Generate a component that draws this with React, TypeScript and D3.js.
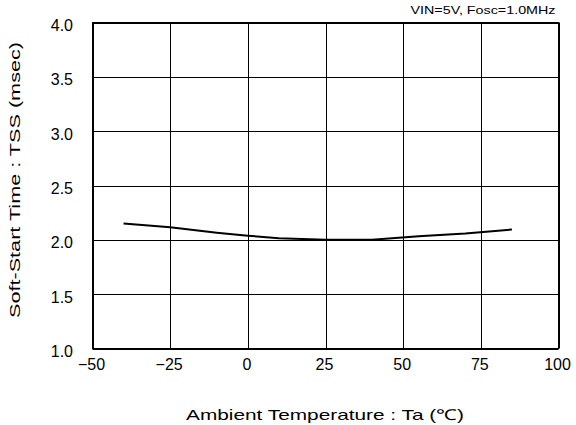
import React from "react";
import * as d3 from "d3";

const temps = [-40, -25, -10, 0, 10, 25, 40, 55, 70, 85];
const tss = [2.15, 2.115, 2.065, 2.038, 2.015, 2.0, 2.0, 2.032, 2.058, 2.095];
const xTicks = [-50, -25, 0, 25, 50, 75, 100];
const yTicks = [1.0, 1.5, 2.0, 2.5, 3.0, 3.5, 4.0];

const W = 576;
const H = 425;
const M = { left: 92.5, right: 558.5, top: 22.5, bottom: 348.5 };

export default function App() {
  const x = d3.scaleLinear().domain([-50, 100]).range([M.left, M.right]);
  const y = d3.scaleLinear().domain([1.0, 4.0]).range([M.bottom, M.top]);
  const line = d3
    .line<number>()
    .x((_, i) => x(temps[i]))
    .y((d) => y(d));
  const fmtX = (v: number) => (v < 0 ? "\u2212" + Math.abs(v) : String(v));
  const font = "'Liberation Sans', Arial, sans-serif";
  return (
    <svg
      width={W}
      height={H}
      style={{ position: "absolute", left: 0, top: 0, background: "#fff" }}
      fontFamily={font}
    >
      <rect x={0} y={0} width={W} height={H} fill="#fff" />
      {xTicks.map((t) => (
        <line key={"gx" + t} x1={Math.round(x(t)) + 0.5} x2={Math.round(x(t)) + 0.5} y1={M.top} y2={M.bottom} stroke="#000" strokeWidth={1} />
      ))}
      {yTicks.map((t) => (
        <line key={"gy" + t} x1={M.left} x2={M.right} y1={Math.round(y(t)) + 0.5} y2={Math.round(y(t)) + 0.5} stroke="#000" strokeWidth={1} />
      ))}
      <rect x={M.left} y={M.top} width={M.right - M.left} height={M.bottom - M.top} fill="none" stroke="#000" strokeWidth={1} />
      <path d={line(tss) || ""} fill="none" stroke="#000" strokeWidth={2} strokeLinejoin="round" />
      {yTicks.map((t) => (
        <text key={"ty" + t} x={73} y={y(t) + 8.5} textAnchor="end" fontSize={16} fill="#000">
          {t.toFixed(1)}
        </text>
      ))}
      {xTicks.map((t) => (
        <text key={"tx" + t} x={x(t) - 1} y={369.5} textAnchor="middle" fontSize={16} fill="#000">
          {fmtX(t)}
        </text>
      ))}
      <text x={325} y={420} textAnchor="middle" fontSize={15} fill="#000" textLength={278} lengthAdjust="spacingAndGlyphs">
        Ambient Temperature : Ta (℃)
      </text>
      <text
        transform={`translate(20,180) rotate(-90)`}
        textAnchor="middle"
        fontSize={15}
        fill="#000"
        textLength={276}
        lengthAdjust="spacingAndGlyphs"
      >
        Soft-Start Time : TSS (msec)
      </text>
      <text x={555.5} y={14} textAnchor="end" fontSize={11.5} fill="#000" textLength={145} lengthAdjust="spacingAndGlyphs">
        VIN=5V, Fosc=1.0MHz
      </text>
    </svg>
  );
}
